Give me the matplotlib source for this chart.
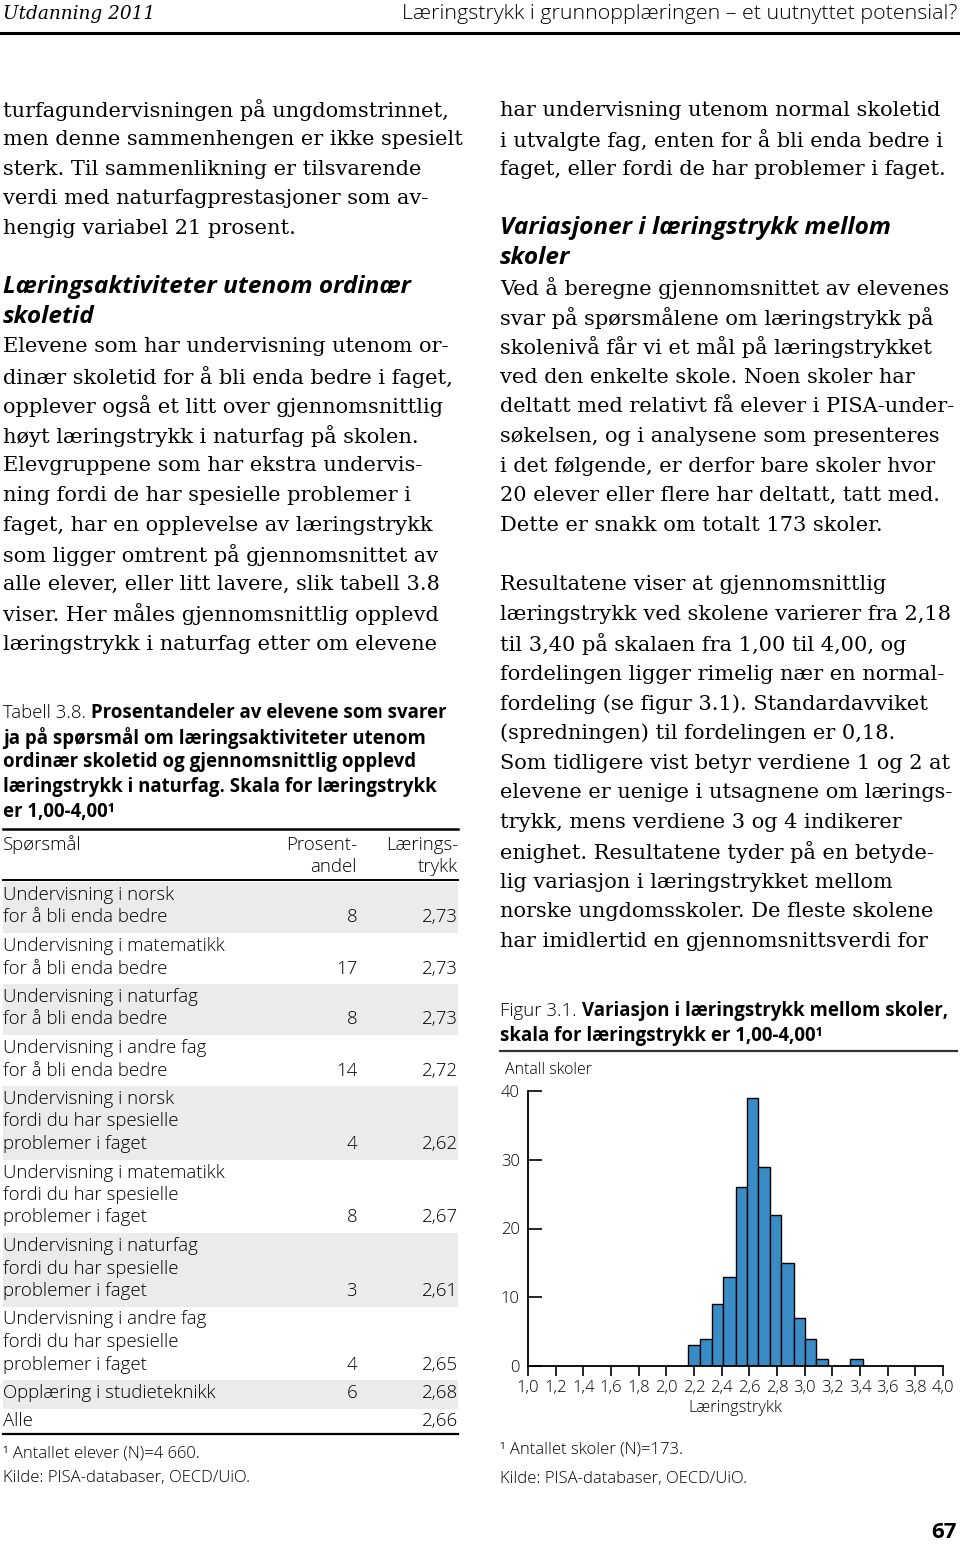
import numpy as np
import matplotlib
matplotlib.use("Agg")
import matplotlib.pyplot as plt

# ---- histogram data (figur 3.1) ----
bin_edges = [2.16, 2.24, 2.33, 2.41, 2.50, 2.58, 2.66, 2.75, 2.83, 2.92,
             3.00, 3.08, 3.17, 3.25, 3.33, 3.42]
counts = [3, 4, 9, 13, 26, 39, 29, 22, 15, 7, 4, 1, 0, 0, 1]
x_ticks = [1.0, 1.2, 1.4, 1.6, 1.8, 2.0, 2.2, 2.4, 2.6, 2.8, 3.0, 3.2, 3.4, 3.6, 3.8, 4.0]
y_ticks = [0, 10, 20, 30, 40]

# ---- table 3.8 data ----
row_labels = [
    ["Undervisning i norsk", "for å bli enda bedre"],
    ["Undervisning i matematikk", "for å bli enda bedre"],
    ["Undervisning i naturfag", "for å bli enda bedre"],
    ["Undervisning i andre fag", "for å bli enda bedre"],
    ["Undervisning i norsk", "fordi du har spesielle", "problemer i faget"],
    ["Undervisning i matematikk", "fordi du har spesielle", "problemer i faget"],
    ["Undervisning i naturfag", "fordi du har spesielle", "problemer i faget"],
    ["Undervisning i andre fag", "fordi du har spesielle", "problemer i faget"],
    ["Opplæring i studieteknikk"],
    ["Alle"],
]
prosent = ["8", "17", "8", "14", "4", "8", "3", "4", "6", ""]
trykk = ["2,73", "2,73", "2,73", "2,72", "2,62", "2,67", "2,61", "2,65", "2,68", "2,66"]

left_body_1 = [
    "turfagundervisningen på ungdomstrinnet,",
    "men denne sammenhengen er ikke spesielt",
    "sterk. Til sammenlikning er tilsvarende",
    "verdi med naturfagprestasjoner som av-",
    "hengig variabel 21 prosent.",
]
left_heading = ["Læringsaktiviteter utenom ordinær", "skoletid"]
left_body_2 = [
    "Elevene som har undervisning utenom or-",
    "dinær skoletid for å bli enda bedre i faget,",
    "opplever også et litt over gjennomsnittlig",
    "høyt læringstrykk i naturfag på skolen.",
    "Elevgruppene som har ekstra undervis-",
    "ning fordi de har spesielle problemer i",
    "faget, har en opplevelse av læringstrykk",
    "som ligger omtrent på gjennomsnittet av",
    "alle elever, eller litt lavere, slik tabell 3.8",
    "viser. Her måles gjennomsnittlig opplevd",
    "læringstrykk i naturfag etter om elevene",
]
right_body_1 = [
    "har undervisning utenom normal skoletid",
    "i utvalgte fag, enten for å bli enda bedre i",
    "faget, eller fordi de har problemer i faget.",
]
right_heading = ["Variasjoner i læringstrykk mellom", "skoler"]
right_body_2 = [
    "Ved å beregne gjennomsnittet av elevenes",
    "svar på spørsmålene om læringstrykk på",
    "skolenivå får vi et mål på læringstrykket",
    "ved den enkelte skole. Noen skoler har",
    "deltatt med relativt få elever i PISA-under-",
    "søkelsen, og i analysene som presenteres",
    "i det følgende, er derfor bare skoler hvor",
    "20 elever eller flere har deltatt, tatt med.",
    "Dette er snakk om totalt 173 skoler.",
]
right_body_3 = [
    "Resultatene viser at gjennomsnittlig",
    "læringstrykk ved skolene varierer fra 2,18",
    "til 3,40 på skalaen fra 1,00 til 4,00, og",
    "fordelingen ligger rimelig nær en normal-",
    "fordeling (se figur 3.1). Standardavviket",
    "(spredningen) til fordelingen er 0,18.",
    "Som tidligere vist betyr verdiene 1 og 2 at",
    "elevene er uenige i utsagnene om lærings-",
    "trykk, mens verdiene 3 og 4 indikerer",
    "enighet. Resultatene tyder på en betyde-",
    "lig variasjon i læringstrykket mellom",
    "norske ungdomsskoler. De fleste skolene",
    "har imidlertid en gjennomsnittsverdi for",
]
table_caption = [
    "Prosentandeler av elevene som svarer",
    "ja på spørsmål om læringsaktiviteter utenom",
    "ordinær skoletid og gjennomsnittlig opplevd",
    "læringstrykk i naturfag. Skala for læringstrykk",
    "er 1,00-4,00\u00b9",
]
fig_caption = [
    "Variasjon i læringstrykk mellom skoler,",
    "skala for læringstrykk er 1,00-4,00\u00b9",
]

SERIF = "DejaVu Serif"
SANS = "Open Sans"
BODY = 15.0
HEAD = 17.6
SMALL = 13.4
NOTE = 12

fig = plt.figure(figsize=(9.6, 15.45), dpi=100)
page = fig.add_axes([0, 0, 1, 1])
page.set_xlim(0, 960)
page.set_ylim(1545, 0)
page.axis("off")
renderer = fig.canvas.get_renderer()


def lines(x, y0, step, texts, **kw):
    for i, t in enumerate(texts):
        page.text(x, y0 + i * step, t, va="center", **kw)


def lead_in(x, y, first, rest, size):
    # "Tabell 3.8. " in light face, then bold text on the same line
    t = page.text(x, y, first, va="center", family=SANS, size=size, weight="light")
    w = t.get_window_extent(renderer).width
    page.text(x + w, y, rest, va="center", family=SANS, size=size, weight="bold")


# header
page.text(3, 14, "Utdanning 2011", va="center", family=SERIF, style="italic", size=13.3)
page.text(957, 14, "Læringstrykk i grunnopplæringen \u2013 et uutnyttet potensial?",
          va="center", ha="right", family=SANS, weight="light", size=15.4)
page.plot([0, 960], [33, 33], color="black", lw=2.2)

# left column
lines(3, 110, 29.6, left_body_1, family=SERIF, size=BODY)
lines(3, 287, 29.6, left_heading, family=SANS, size=HEAD, weight="bold", style="italic")
lines(3, 347, 29.7, left_body_2, family=SERIF, size=BODY)

lead_in(3, 713, "Tabell 3.8. ", table_caption[0], SMALL)
lines(3, 738, 24.5, table_caption[1:], family=SANS, size=SMALL, weight="bold")

# table
page.plot([3, 458], [829, 829], color="black", lw=1.8)
page.text(3, 845, "Spørsmål", va="center", family=SANS, size=SMALL, weight="light")
page.text(357, 845, "Prosent-", va="center", ha="right", family=SANS, size=SMALL, weight="light")
page.text(357, 867, "andel", va="center", ha="right", family=SANS, size=SMALL, weight="light")
page.text(458, 845, "Lærings-", va="center", ha="right", family=SANS, size=SMALL, weight="light")
page.text(458, 867, "trykk", va="center", ha="right", family=SANS, size=SMALL, weight="light")
page.plot([3, 458], [880, 880], color="black", lw=1.4)

line_h = 22.5
top = 882
for i, labels in enumerate(row_labels):
    h = len(labels) * line_h + 6
    if i % 2 == 0:
        page.add_patch(plt.Rectangle((3, top), 455, h, color="#ebebeb", lw=0))
    for k, lab in enumerate(labels):
        page.text(3, top + 13 + k * line_h, lab, va="center", family=SANS,
                  size=SMALL, weight="light")
    yv = top + 13 + (len(labels) - 1) * line_h
    page.text(357, yv, prosent[i], va="center", ha="right", family=SANS, size=SMALL, weight="light")
    page.text(458, yv, trykk[i], va="center", ha="right", family=SANS, size=SMALL, weight="light")
    top += h
page.plot([3, 458], [top - 3, top - 3], color="black", lw=1.6)

page.text(3, 1453, "\u00b9 Antallet elever (N)=4 660.", va="center", family=SANS, size=NOTE, weight="light")
page.text(3, 1478, "Kilde: PISA-databaser, OECD/UiO.", va="center", family=SANS, size=NOTE, weight="light")

# right column
lines(500, 110, 29.6, right_body_1, family=SERIF, size=BODY)
lines(500, 228, 29.6, right_heading, family=SANS, size=HEAD, weight="bold", style="italic")
lines(500, 288, 29.7, right_body_2, family=SERIF, size=BODY)
lines(500, 585, 29.7, right_body_3, family=SERIF, size=BODY)

lead_in(500, 1011, "Figur 3.1. ", fig_caption[0], SMALL)
page.text(500, 1036, fig_caption[1], va="center", family=SANS, size=SMALL, weight="bold")
page.plot([500, 957], [1051, 1051], color="#333333", lw=1.6)

page.text(505, 1070, "Antall skoler", va="center", family=SANS, size=11.5, weight="light")
page.text(500, 1449, "\u00b9 Antallet skoler (N)=173.", va="center", family=SANS, size=NOTE, weight="light")
page.text(500, 1479, "Kilde: PISA-databaser, OECD/UiO.", va="center", family=SANS, size=NOTE, weight="light")

page.text(957, 1532, "67", va="center", ha="right", family=SANS, size=16, weight="bold")

# histogram
x0, x1, y_base, y_top = 528, 943, 1366, 1091
ax = fig.add_axes([x0 / 960, (1545 - y_base) / 1545, (x1 - x0) / 960, (y_base - y_top) / 1545])
widths = np.diff(bin_edges)
ax.bar(bin_edges[:-1], counts, width=widths, align="edge",
       color="#3a8cc6", edgecolor="black", linewidth=1.0)
ax.set_xlim(1.0, 4.0)
ax.set_ylim(0, 40)
ax.set_xticks(x_ticks)
ax.set_xticklabels([f"{v:.1f}".replace(".", ",") for v in x_ticks],
                   family=SANS, size=12, weight="light")
ax.set_yticks(y_ticks)
ax.set_yticklabels([str(v) for v in y_ticks], family=SANS, size=12, weight="light")
ax.tick_params(axis="x", direction="out", length=7, width=1.2, pad=3)
ax.tick_params(axis="y", direction="in", length=10, width=1.2, pad=6)
for s in ("top", "right"):
    ax.spines[s].set_visible(False)
for s in ("left", "bottom"):
    ax.spines[s].set_linewidth(1.3)
ax.set_xlabel("Læringstrykk", family=SANS, size=11.8, weight="light", labelpad=3)
ax.patch.set_alpha(0)

fig.savefig("out.png", dpi=100, facecolor="white")
